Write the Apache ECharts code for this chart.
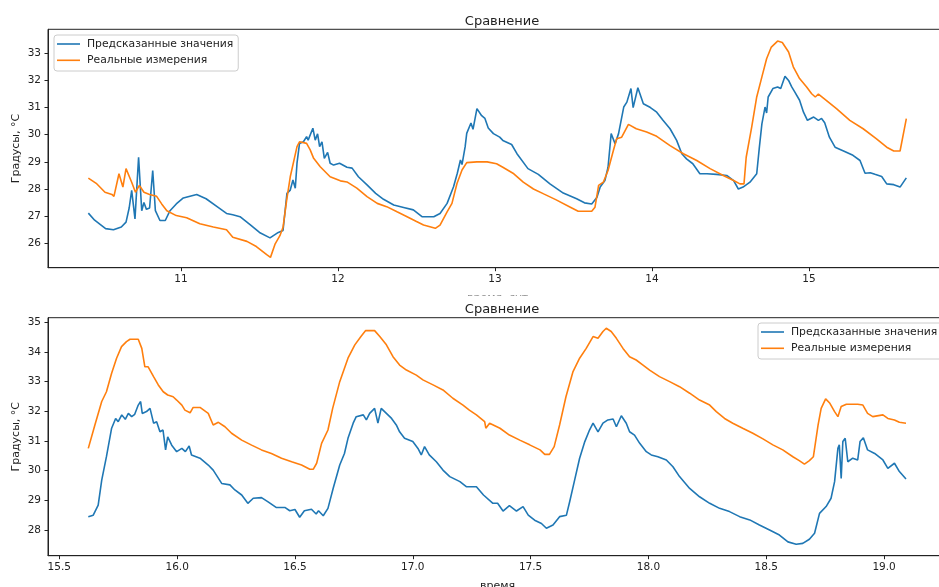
<!DOCTYPE html>
<html>
<head>
<meta charset="utf-8">
<script src="https://cdn.jsdelivr.net/npm/echarts@6/dist/echarts.min.js"></script>
<style>
html, body { margin: 0; padding: 0; background: #fff; overflow: hidden; }
#chart { width: 939px; height: 587px; }
</style>
</head>
<body>
<div id="chart"></div>
<script>
var titleText = 'Сравнение';
var yName = 'Градусы, °C';
var seriesNames = ['Предсказанные значения', 'Реальные измерения'];

var topXTicks = [11, 12, 13, 14, 15];
var topYTicks = [26, 27, 28, 29, 30, 31, 32, 33];
var botXTicks = [15.5, 16.0, 16.5, 17.0, 17.5, 18.0, 18.5, 19.0];
var botYTicks = [28, 29, 30, 31, 32, 33, 34, 35];

// верхний график: [время, градусы]
var topPred = [
    [10.41, 27.11], [10.45, 26.85], [10.52, 26.54], [10.57, 26.5], [10.62, 26.6], [10.65, 26.78],
    [10.67, 27.3], [10.686, 27.95], [10.707, 26.9], [10.73, 29.17], [10.75, 27.2], [10.764, 27.5],
    [10.78, 27.25], [10.80, 27.3], [10.82, 28.68], [10.837, 27.2], [10.866, 26.84], [10.90, 26.84],
    [10.93, 27.2], [10.97, 27.45], [11.015, 27.67], [11.10, 27.8], [11.16, 27.64], [11.23, 27.35],
    [11.29, 27.1], [11.33, 27.05], [11.376, 26.98], [11.44, 26.69], [11.50, 26.4], [11.567, 26.2],
    [11.62, 26.4], [11.65, 26.47], [11.675, 27.84], [11.696, 27.96], [11.713, 28.33], [11.728, 28.03],
    [11.739, 28.95], [11.755, 29.68], [11.78, 29.74], [11.80, 29.93], [11.81, 29.8], [11.84, 30.24],
    [11.855, 29.8], [11.87, 30.03], [11.883, 29.56], [11.898, 29.74], [11.913, 29.13], [11.934, 29.35],
    [11.95, 28.95], [11.972, 28.88], [12.01, 28.95], [12.057, 28.8], [12.09, 28.77], [12.13, 28.45],
    [12.185, 28.15], [12.24, 27.84], [12.29, 27.62], [12.355, 27.41], [12.418, 27.32], [12.48, 27.23],
    [12.535, 26.98], [12.61, 26.98], [12.65, 27.1], [12.695, 27.47], [12.736, 28.08], [12.76, 28.58],
    [12.78, 29.07], [12.79, 28.9], [12.81, 29.56], [12.82, 30.05], [12.847, 30.43], [12.86, 30.2],
    [12.885, 30.96], [12.915, 30.7], [12.936, 30.6], [12.957, 30.25], [12.99, 30.04], [13.03, 29.91],
    [13.05, 29.79], [13.106, 29.64], [13.14, 29.3], [13.21, 28.75], [13.276, 28.54], [13.35, 28.19],
    [13.435, 27.85], [13.52, 27.64], [13.57, 27.49], [13.616, 27.45], [13.65, 27.7], [13.67, 28.07],
    [13.70, 28.31], [13.72, 28.8], [13.74, 30.04], [13.765, 29.67], [13.787, 30.04], [13.82, 31.02],
    [13.84, 31.2], [13.866, 31.7], [13.88, 31.0], [13.91, 31.73], [13.945, 31.14], [13.99, 31.0],
    [14.03, 30.83], [14.07, 30.53], [14.115, 30.22], [14.157, 29.79], [14.19, 29.3], [14.22, 29.11],
    [14.26, 28.93], [14.305, 28.56], [14.35, 28.56], [14.41, 28.54], [14.476, 28.5], [14.52, 28.31],
    [14.55, 28.0], [14.58, 28.07], [14.624, 28.25], [14.667, 28.56], [14.684, 29.54], [14.70, 30.4],
    [14.72, 31.02], [14.73, 30.8], [14.74, 31.39], [14.77, 31.7], [14.80, 31.76], [14.82, 31.7],
    [14.847, 32.15], [14.87, 32.0], [14.89, 31.76], [14.91, 31.57], [14.94, 31.27], [14.965, 30.83],
    [14.99, 30.53], [15.03, 30.65], [15.06, 30.53], [15.08, 30.6], [15.10, 30.44], [15.13, 29.91],
    [15.166, 29.54], [15.22, 29.4], [15.28, 29.24], [15.325, 29.05], [15.357, 28.58], [15.39, 28.6],
    [15.42, 28.54], [15.463, 28.46], [15.495, 28.19], [15.54, 28.16], [15.58, 28.07], [15.62, 28.41]
];
var topReal = [
    [10.41, 28.4], [10.46, 28.21], [10.516, 27.88], [10.56, 27.8], [10.573, 27.73], [10.605, 28.56],
    [10.63, 28.07], [10.65, 28.75], [10.686, 28.25], [10.71, 27.88], [10.735, 28.13], [10.764, 27.88],
    [10.80, 27.8], [10.845, 27.73], [10.877, 27.45], [10.91, 27.2], [10.97, 27.02], [11.036, 26.94],
    [11.12, 26.72], [11.206, 26.6], [11.29, 26.5], [11.33, 26.22], [11.42, 26.07], [11.48, 25.88],
    [11.546, 25.58], [11.57, 25.48], [11.60, 25.98], [11.63, 26.28], [11.65, 26.59], [11.673, 27.58],
    [11.696, 28.45], [11.739, 29.56], [11.755, 29.74], [11.80, 29.68], [11.823, 29.44], [11.845, 29.13],
    [11.887, 28.82], [11.95, 28.45], [12.015, 28.3], [12.057, 28.26], [12.12, 28.03], [12.185, 27.72],
    [12.25, 27.47], [12.31, 27.35], [12.376, 27.16], [12.44, 26.98], [12.50, 26.8], [12.545, 26.67],
    [12.62, 26.55], [12.65, 26.67], [12.695, 27.16], [12.726, 27.47], [12.758, 28.2], [12.79, 28.7],
    [12.82, 28.97], [12.885, 29.0], [12.95, 29.0], [13.01, 28.93], [13.05, 28.8], [13.12, 28.56],
    [13.18, 28.25], [13.245, 28.0], [13.31, 27.82], [13.39, 27.6], [13.48, 27.33], [13.53, 27.18],
    [13.616, 27.18], [13.637, 27.33], [13.66, 28.13], [13.69, 28.25], [13.72, 28.68], [13.754, 29.42],
    [13.775, 29.85], [13.807, 29.91], [13.85, 30.38], [13.90, 30.22], [13.966, 30.1], [14.03, 29.94],
    [14.115, 29.6], [14.20, 29.3], [14.285, 29.05], [14.37, 28.75], [14.454, 28.5], [14.52, 28.31],
    [14.56, 28.19], [14.586, 28.19], [14.60, 29.17], [14.635, 30.28], [14.667, 31.39], [14.70, 32.13],
    [14.73, 32.8], [14.76, 33.23], [14.80, 33.45], [14.83, 33.4], [14.87, 33.05], [14.90, 32.5],
    [14.94, 32.07], [14.985, 31.76], [15.017, 31.51], [15.04, 31.39], [15.06, 31.5], [15.09, 31.36],
    [15.175, 30.96], [15.26, 30.53], [15.345, 30.22], [15.43, 29.85], [15.495, 29.54], [15.54, 29.4],
    [15.58, 29.4], [15.62, 30.59]
];

// нижний график
var botPred = [
    [15.623, 28.45], [15.644, 28.5], [15.665, 28.84], [15.68, 29.68], [15.70, 30.47], [15.722, 31.43],
    [15.739, 31.76], [15.75, 31.65], [15.765, 31.88], [15.78, 31.73], [15.793, 31.93], [15.807, 31.82],
    [15.82, 31.9], [15.835, 32.21], [15.845, 32.33], [15.852, 31.93], [15.87, 31.99], [15.885, 32.1],
    [15.90, 31.6], [15.913, 31.65], [15.927, 31.31], [15.94, 31.37], [15.951, 30.7], [15.96, 31.14],
    [15.977, 30.86], [15.998, 30.64], [16.02, 30.75], [16.035, 30.64], [16.051, 30.83], [16.061, 30.53],
    [16.097, 30.42], [16.132, 30.19], [16.153, 30.02], [16.189, 29.57], [16.224, 29.52], [16.245, 29.35],
    [16.274, 29.18], [16.30, 28.9], [16.323, 29.07], [16.358, 29.09], [16.386, 28.95], [16.42, 28.76],
    [16.457, 28.76], [16.478, 28.65], [16.50, 28.69], [16.52, 28.43], [16.54, 28.65], [16.57, 28.7],
    [16.59, 28.54], [16.60, 28.65], [16.62, 28.48], [16.64, 28.73], [16.662, 29.4], [16.69, 30.19],
    [16.71, 30.58], [16.725, 31.09], [16.747, 31.6], [16.76, 31.82], [16.79, 31.88], [16.803, 31.71],
    [16.817, 31.93], [16.838, 32.1], [16.852, 31.6], [16.866, 32.1], [16.888, 31.93], [16.91, 31.76],
    [16.93, 31.54], [16.944, 31.31], [16.965, 31.09], [17.00, 30.98], [17.022, 30.75], [17.036, 30.53],
    [17.05, 30.81], [17.07, 30.53], [17.10, 30.3], [17.128, 30.02], [17.157, 29.8], [17.20, 29.63],
    [17.227, 29.46], [17.27, 29.46], [17.30, 29.18], [17.34, 28.9], [17.36, 28.9], [17.383, 28.64],
    [17.41, 28.82], [17.44, 28.64], [17.468, 28.79], [17.49, 28.5], [17.517, 28.33], [17.546, 28.22],
    [17.567, 28.06], [17.595, 28.17], [17.623, 28.45], [17.652, 28.5], [17.666, 28.96], [17.687, 29.69],
    [17.708, 30.42], [17.73, 30.98], [17.75, 31.37], [17.765, 31.6], [17.786, 31.31], [17.807, 31.6],
    [17.828, 31.71], [17.85, 31.74], [17.864, 31.48], [17.885, 31.85], [17.906, 31.6], [17.92, 31.31],
    [17.941, 31.2], [17.963, 30.92], [17.991, 30.64], [18.012, 30.53], [18.04, 30.47], [18.076, 30.36],
    [18.104, 30.13], [18.132, 29.8], [18.175, 29.4], [18.217, 29.12], [18.26, 28.9], [18.302, 28.73],
    [18.344, 28.62], [18.387, 28.45], [18.43, 28.34], [18.471, 28.17], [18.514, 28.0], [18.556, 27.83],
    [18.592, 27.6], [18.627, 27.52], [18.655, 27.55], [18.683, 27.69], [18.705, 27.89], [18.726, 28.56],
    [18.754, 28.79], [18.775, 29.07], [18.79, 29.63], [18.804, 30.75], [18.81, 30.87], [18.818, 29.74],
    [18.825, 30.98], [18.835, 31.09], [18.846, 30.3], [18.867, 30.42], [18.888, 30.36], [18.898, 30.98],
    [18.912, 31.11], [18.93, 30.7], [18.96, 30.58], [18.995, 30.36], [19.016, 30.08], [19.044, 30.25],
    [19.065, 29.97], [19.093, 29.72]
];
var botReal = [
    [15.623, 30.75], [15.651, 31.54], [15.68, 32.33], [15.70, 32.66], [15.722, 33.28], [15.743, 33.79],
    [15.764, 34.18], [15.785, 34.35], [15.80, 34.43], [15.835, 34.43], [15.85, 34.12], [15.863, 33.5],
    [15.877, 33.5], [15.90, 33.17], [15.92, 32.89], [15.941, 32.66], [15.96, 32.55], [15.983, 32.49],
    [15.998, 32.38], [16.02, 32.21], [16.033, 32.04], [16.055, 31.95], [16.068, 32.13], [16.097, 32.13],
    [16.132, 31.93], [16.153, 31.54], [16.175, 31.63], [16.203, 31.48], [16.231, 31.26], [16.274, 31.03],
    [16.316, 30.86], [16.358, 30.7], [16.40, 30.58], [16.443, 30.42], [16.486, 30.3], [16.528, 30.19],
    [16.563, 30.05], [16.578, 30.05], [16.592, 30.25], [16.613, 30.92], [16.64, 31.37], [16.66, 32.1],
    [16.69, 33.0], [16.725, 33.79], [16.754, 34.24], [16.78, 34.52], [16.80, 34.72], [16.838, 34.72],
    [16.86, 34.52], [16.888, 34.24], [16.916, 33.84], [16.944, 33.56], [16.973, 33.39], [17.015, 33.22],
    [17.043, 33.06], [17.086, 32.89], [17.128, 32.72], [17.17, 32.44], [17.213, 32.21], [17.24, 32.04],
    [17.27, 31.88], [17.305, 31.65], [17.31, 31.43], [17.326, 31.6], [17.37, 31.43], [17.41, 31.2],
    [17.454, 31.03], [17.496, 30.87], [17.54, 30.7], [17.56, 30.55], [17.58, 30.55], [17.60, 30.81],
    [17.623, 31.54], [17.65, 32.49], [17.68, 33.34], [17.708, 33.79], [17.736, 34.12], [17.765, 34.52],
    [17.786, 34.46], [17.807, 34.69], [17.821, 34.8], [17.842, 34.69], [17.864, 34.46], [17.892, 34.12],
    [17.92, 33.84], [17.948, 33.73], [17.977, 33.56], [18.005, 33.39], [18.047, 33.17], [18.09, 33.0],
    [18.132, 32.83], [18.175, 32.61], [18.217, 32.38], [18.26, 32.21], [18.288, 31.99], [18.323, 31.76],
    [18.358, 31.6], [18.40, 31.43], [18.443, 31.26], [18.486, 31.07], [18.528, 30.87], [18.57, 30.7],
    [18.613, 30.47], [18.64, 30.34], [18.662, 30.22], [18.683, 30.34], [18.70, 30.47], [18.72, 31.54],
    [18.733, 32.1], [18.752, 32.42], [18.77, 32.27], [18.79, 31.99], [18.804, 31.82], [18.818, 32.16],
    [18.84, 32.24], [18.888, 32.24], [18.91, 32.21], [18.93, 31.93], [18.952, 31.82], [18.995, 31.88],
    [19.016, 31.76], [19.044, 31.71], [19.065, 31.63], [19.093, 31.6]
];

var font = 'DejaVu Sans';
var ink = '#222';

function xAxisFor(gridIndex, min, max, ticks, name, digits) {
    return {
        type: 'value', gridIndex: gridIndex, min: min, max: max,
        name: name, nameLocation: 'middle', nameGap: 25, nameMoveOverlap: false,
        nameTextStyle: { color: ink, fontFamily: font, fontSize: 11 },
        splitLine: { show: false },
        axisLine: { show: true, onZero: false, lineStyle: { color: ink, width: 1 } },
        axisTick: { show: true, length: 3.5, customValues: ticks, lineStyle: { color: ink } },
        axisLabel: {
            color: ink, fontFamily: font, fontSize: 10.5, margin: 6, customValues: ticks,
            formatter: function (v) { return digits ? v.toFixed(digits) : String(v); }
        }
    };
}

function yAxisFor(gridIndex, min, max, ticks) {
    return {
        type: 'value', gridIndex: gridIndex, min: min, max: max,
        name: yName, nameLocation: 'middle', nameGap: 26, nameRotate: 90, nameMoveOverlap: false,
        nameTextStyle: { color: ink, fontFamily: font, fontSize: 11 },
        splitLine: { show: false },
        axisLine: { show: true, lineStyle: { color: ink, width: 1 } },
        axisTick: { show: true, length: 3.5, customValues: ticks, lineStyle: { color: ink } },
        axisLabel: { color: ink, fontFamily: font, fontSize: 10.5, margin: 7, customValues: ticks }
    };
}

function legendAt(left, top) {
    return {
        orient: 'vertical', left: left, top: top,
        data: seriesNames,
        icon: 'rect', itemWidth: 23, itemHeight: 1.6, itemGap: 4.3,
        padding: [3, 5, 4.7, 3],
        backgroundColor: '#fff', borderColor: '#cccccc', borderWidth: 1, borderRadius: 3,
        textStyle: { color: ink, fontFamily: font, fontSize: 10.8, lineHeight: 12, padding: [0, 0, 0, 2] }
    };
}

function lineSeries(name, idx, data, color) {
    return {
        name: name, type: 'line', xAxisIndex: idx, yAxisIndex: idx,
        data: data, showSymbol: false, symbol: 'none', animation: false,
        lineStyle: { color: color, width: 1.6 }, itemStyle: { color: color }
    };
}

var myChart = echarts.init(document.getElementById('chart'));
var option = {
    backgroundColor: '#fff',
    animation: false,
    title: [
        { text: titleText, left: 497, top: 10, textAlign: 'center', z: 100,
          textStyle: { color: ink, fontFamily: font, fontSize: 13, fontWeight: 'normal' } },
        { text: titleText, left: 497, top: 298, textAlign: 'center', z: 100,
          textStyle: { color: ink, fontFamily: font, fontSize: 13, fontWeight: 'normal' } }
    ],
    graphic: [{
        type: 'rect', z: 50, silent: true,
        shape: { x: 0, y: 295.5, width: 939, height: 21 },
        style: { fill: '#fff' }
    }],
    legend: [legendAt(54, 35), legendAt(758, 323)],
    grid: [
        { left: 48, top: 29.3, right: -8, height: 238.4, outerBoundsMode: 'none', containLabel: false,
          show: true, borderColor: ink, borderWidth: 1, backgroundColor: '#fff' },
        { left: 48, top: 317.7, right: -8, height: 238, outerBoundsMode: 'none', containLabel: false,
          show: true, borderColor: ink, borderWidth: 1, backgroundColor: '#fff' }
    ],
    xAxis: [
        xAxisFor(0, 10.153, 15.879, topXTicks, 'время, сут', 0),
        xAxisFor(1, 15.452, 19.267, botXTicks, 'время', 1)
    ],
    yAxis: [
        yAxisFor(0, 25.10, 33.884, topYTicks),
        yAxisFor(1, 27.134, 35.155, botYTicks)
    ],
    series: [
        lineSeries(seriesNames[0], 0, topPred, '#1f77b4'),
        lineSeries(seriesNames[1], 0, topReal, '#ff7f0e'),
        lineSeries(seriesNames[0], 1, botPred, '#1f77b4'),
        lineSeries(seriesNames[1], 1, botReal, '#ff7f0e')
    ]
};
myChart.setOption(option);
</script>
</body>
</html>
